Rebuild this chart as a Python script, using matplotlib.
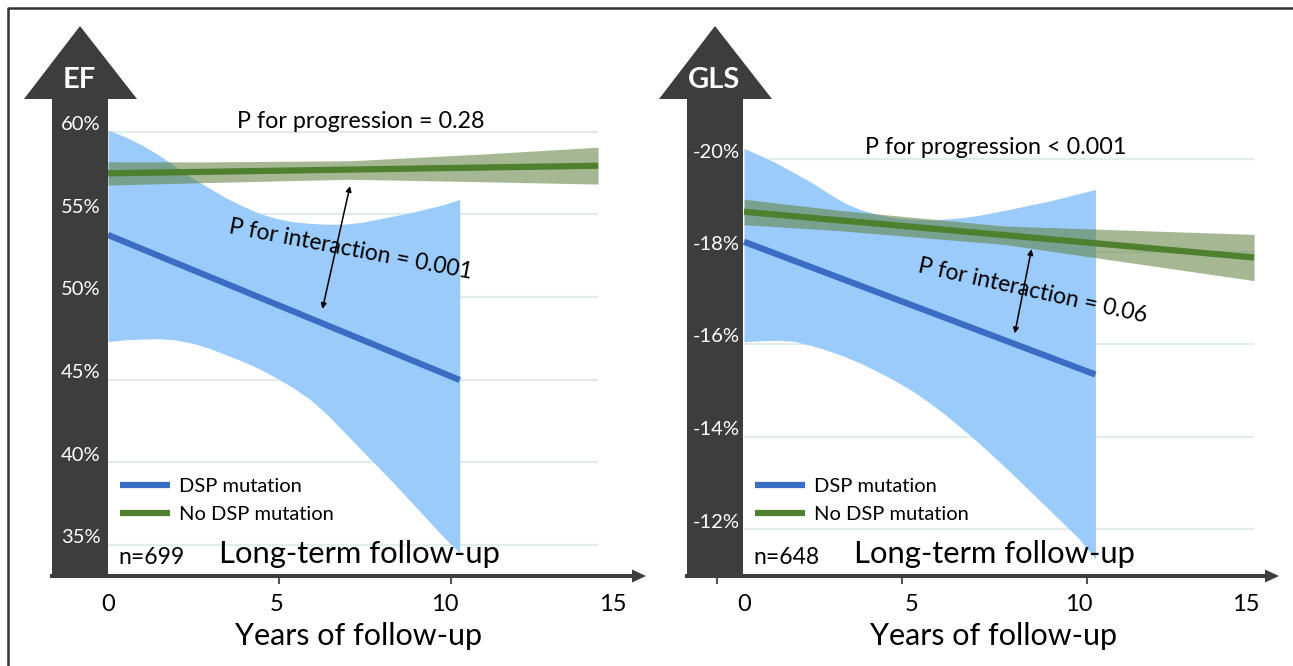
import matplotlib
matplotlib.use("Agg")
import matplotlib.pyplot as plt
from matplotlib.lines import Line2D
from matplotlib.patches import Polygon

plt.rcParams["font.family"] = ["Lato", "DejaVu Sans"]

W, H = 1293, 666

# ---------------- data ----------------
x_tick_values = [0, 5, 10, 15]
x_tick_labels = ["0", "5", "10", "15"]
series_labels = ["DSP mutation", "No DSP mutation"]

# EF panel
ef_ticks = [35, 40, 45, 50, 55, 60]
ef_tick_labels = ["35%", "40%", "45%", "50%", "55%", "60%"]
ef_blue_years = [0, 10.45]
ef_blue = [53.75, 44.97]
ef_blue_band_years = [0, 0.5, 1, 1.5, 2, 2.5, 3, 3.5, 4, 4.5, 5, 5.5, 6, 6.5, 7, 7.5,
                      8, 8.5, 9, 9.5, 10, 10.45]
ef_blue_upper = [60.1, 59.7, 59.2, 58.6, 57.9, 57.2, 56.6, 56.0, 55.5, 55.05, 54.75, 54.55,
                 54.45, 54.4, 54.4, 54.5, 54.7, 54.9, 55.1, 55.35, 55.6, 55.9]
ef_blue_lower = [47.3, 47.4, 47.45, 47.47, 47.4, 47.2, 46.9, 46.5, 46.1, 45.65, 45.1, 44.5,
                 43.8, 42.9, 41.85, 40.8, 39.75, 38.7, 37.6, 36.5, 35.4, 34.5]
ef_green_years = [0, 14.56]
ef_green = [57.48, 57.94]
ef_green_band_years = [0, 2.73, 7.19, 11.14, 14.56]
ef_green_upper = [58.18, 58.17, 58.24, 58.65, 59.06]
ef_green_lower = [56.77, 56.91, 57.12, 56.97, 56.83]

# GLS panel
gls_ticks = [-20, -18, -16, -14, -12]
gls_tick_labels = ["-20%", "-18%", "-16%", "-14%", "-12%"]
gls_blue_years = [0, 10.5]
gls_blue = [-18.21, -15.34]
gls_blue_band_years = [0, 0.5, 1, 1.5, 2, 2.5, 3, 3.5, 4, 4.5, 5, 5.5, 6, 6.5, 7, 7.5,
                       8, 8.5, 9, 9.5, 10, 10.5]
gls_blue_upper = [-20.23, -20.07, -19.9, -19.7, -19.5, -19.27, -19.05, -18.9, -18.8, -18.73,
                  -18.7, -18.68, -18.7, -18.73, -18.78, -18.85, -18.92, -19.0, -19.07,
                  -19.16, -19.25, -19.34]
gls_blue_lower = [-16.05, -16.07, -16.08, -16.06, -15.97, -15.86, -15.73, -15.58, -15.4,
                  -15.21, -15.0, -14.75, -14.48, -14.18, -13.87, -13.54, -13.2, -12.85,
                  -12.5, -12.15, -11.8, -11.35]
gls_green_years = [0, 15.24]
gls_green = [-18.86, -17.87]
gls_green_band_years = [0, 2.85, 7.8, 12.76, 15.24]
gls_green_upper = [-19.13, -18.89, -18.55, -18.43, -18.37]
gls_green_lower = [-18.58, -18.45, -18.15, -17.63, -17.37]

BLUE = "#3A6CC4"
BLUE_BAND = "#9ACBFA"
GREEN = "#4F8030"
GREEN_BAND = "#5E7F3A"
DARK = "#3D3D3D"
GRID = "#E3ECEC"


def fxy(px, py):
    """pixel position (from top-left) -> figure fraction"""
    return (px / W, 1 - py / H)


fig = plt.figure(figsize=(W / 100, H / 100), dpi=100)

# outer frame (only left and top edges are visible)
fig.add_artist(Line2D([8 / W, 8 / W, 1], [0, 1 - 8 / H, 1 - 8 / H],
                      transform=fig.transFigure, color="#333333", lw=1.8))

panels = [
    dict(name="EF", x0=108, ppy=33.66, shaft=(52, 108), y_ref=(60, 131.7), ppv=-16.52,
         arrow_end=646, marks=[0, 5.08, 10.19],
         ticks=ef_ticks, tick_labels=ef_tick_labels,
         blue=(ef_blue_years, ef_blue), blue_band=(ef_blue_band_years, ef_blue_upper, ef_blue_lower),
         green=(ef_green_years, ef_green), green_band=(ef_green_band_years, ef_green_upper, ef_green_lower),
         prog="P for progression = 0.28", prog_xy=(361, 128),
         inter="P for interaction = 0.001", inter_xy=(351, 250), inter_rot=-10.7,
         arrow_top=(7.19, 56.71), arrow_bot=(6.37, 49.27),
         n="n=699"),
    dict(name="GLS", x0=744, ppy=33.47, shaft=(687, 743), y_ref=(-20, 159), ppv=46.25,
         arrow_end=1279, marks=[-0.81, 4.72, 10.25],
         ticks=gls_ticks, tick_labels=gls_tick_labels,
         blue=(gls_blue_years, gls_blue), blue_band=(gls_blue_band_years, gls_blue_upper, gls_blue_lower),
         green=(gls_green_years, gls_green), green_band=(gls_green_band_years, gls_green_upper, gls_green_lower),
         prog="P for progression < 0.001", prog_xy=(996, 154),
         inter="P for interaction = 0.06", inter_xy=(1033, 291), inter_rot=-12.5,
         arrow_top=(8.59, -18.05), arrow_bot=(8.09, -16.23),
         n="n=648"),
]

axis_y = 576
top_px = 100

for p in panels:
    s_left, s_right = p["shaft"]
    left, right = s_left, p["arrow_end"]
    ax = fig.add_axes([left / W, 1 - axis_y / H, (right - left) / W, (axis_y - top_px) / H])
    ax.set_xlim((left - p["x0"]) / p["ppy"], (right - p["x0"]) / p["ppy"])
    v_ref, y_ref = p["y_ref"]
    # value at pixel row py: v_ref + (py - y_ref) / ppv   (ppv sign encodes orientation)
    ax.set_ylim(v_ref + (axis_y - y_ref) / p["ppv"], v_ref + (top_px - y_ref) / p["ppv"])
    ax.patch.set_visible(False)
    for sp in ax.spines.values():
        sp.set_visible(False)
    ax.set_yticks([])

    # gridlines up to the end of the long series
    ax.hlines(p["ticks"], 0, p["green"][0][-1], color=GRID, lw=1.6, zorder=0.5)

    # confidence bands and regression lines
    by, bu, bl = p["blue_band"]
    ax.fill_between(by, bu, bl, color=BLUE_BAND, lw=0, zorder=1)
    l1, = ax.plot(*p["blue"], color=BLUE, lw=4.5, solid_capstyle="butt", zorder=2)
    gy, gu, gl = p["green_band"]
    ax.fill_between(gy, gu, gl, color=GREEN_BAND, alpha=0.55, lw=0, zorder=3)
    l2, = ax.plot(*p["green"], color=GREEN, lw=4.5, solid_capstyle="butt", zorder=4)

    # y-axis drawn as a big dark arrow
    shaft = [fxy(s_left, axis_y + 2), fxy(s_left, 99), fxy(s_left - 28, 99),
             fxy((s_left + s_right) / 2, 26), fxy(s_right + 29, 99), fxy(s_right, 99),
             fxy(s_right, axis_y + 2)]
    ax.add_patch(Polygon(shaft, closed=True, transform=fig.transFigure, clip_on=False,
                         color=DARK, lw=0, zorder=6))
    ax.text(*fxy((s_left + s_right) / 2 - 1, 80), p["name"], transform=fig.transFigure,
            color="white", fontsize=21, fontweight="bold",
            ha="center", va="center", zorder=7)
    for v, lab in zip(p["ticks"], p["tick_labels"]):
        ax.annotate(lab, xy=(0, v), xycoords=("axes fraction", "data"),
                    xytext=((s_left + s_right) / 2 - s_left + 1, 7), textcoords="offset pixels",
                    ha="center", va="center", color="white", fontsize=14.5, zorder=7)

    # x-axis arrow
    ax.add_artist(Line2D([fxy(s_left, 0)[0], fxy(right - 12, 0)[0]], [1 - axis_y / H] * 2,
                         transform=fig.transFigure, color=DARK, lw=2.9, clip_on=False, zorder=6))
    ax.add_patch(Polygon([fxy(right - 14, axis_y - 6.5), fxy(right, axis_y), fxy(right - 14, axis_y + 6.5)],
                         closed=True, transform=fig.transFigure, clip_on=False,
                         color=DARK, lw=0, zorder=6))
    ax.set_xticks(x_tick_values, x_tick_labels, fontsize=17)
    ax.set_xticks(p["marks"], minor=True)
    ax.tick_params(axis="x", which="major", length=0, pad=13)
    ax.tick_params(axis="x", which="minor", length=6, width=1.5, color="#555555")

    # annotations
    ax.text(*fxy(*p["prog_xy"]), p["prog"], transform=fig.transFigure, fontsize=16.8,
            ha="center", va="baseline")
    ax.text(*fxy(*p["inter_xy"]), p["inter"], transform=fig.transFigure, fontsize=16.5,
            ha="center", va="center", rotation=p["inter_rot"], rotation_mode="anchor", zorder=5)
    ax.annotate("", xy=p["arrow_top"], xytext=p["arrow_bot"],
                arrowprops=dict(arrowstyle="<|-|>", lw=1.1, color="black",
                                shrinkA=0, shrinkB=0, mutation_scale=8), zorder=5)
    ax.text(*fxy(s_right + 10, 564), p["n"], transform=fig.transFigure, fontsize=16.5, va="baseline")
    ax.text(*fxy(s_right + 111, 563), "Long-term follow-up", transform=fig.transFigure,
            fontsize=22.3, va="baseline")
    ax.text(*fxy(s_right + 251, 645), "Years of follow-up", transform=fig.transFigure,
            fontsize=22, ha="center", va="baseline")

    ax.legend([l1, l2], series_labels, loc="center left",
              bbox_to_anchor=fxy(s_right + 12, 500.4), bbox_transform=fig.transFigure,
              frameon=False, borderpad=0, borderaxespad=0, fontsize=14.5,
              handlelength=2.5, handletextpad=0.45, labelspacing=0.55)

fig.savefig("out.png", dpi=100)
